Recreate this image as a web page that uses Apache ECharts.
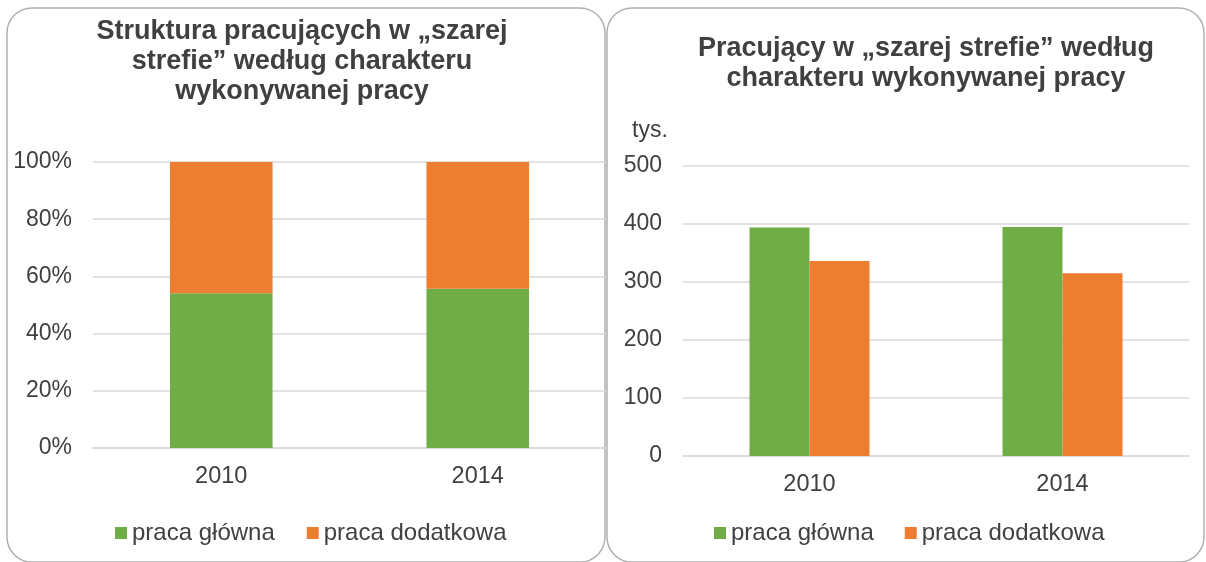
<!DOCTYPE html>
<html>
<head>
<meta charset="utf-8">
<script src="https://cdn.jsdelivr.net/npm/echarts@6/dist/echarts.min.js"></script>
<style>
html, body { margin: 0; padding: 0; background: #fff; }
#main { width: 1206px; height: 562px; }
</style>
</head>
<body>
<div id="main"></div>
<script>
// dane z wykresów
var years = ['2010', '2014'];
var seriesNames = ['praca główna', 'praca dodatkowa'];
// struktura w % (lewy wykres)
var shareMain = [54.1, 55.7];
var shareExtra = [45.9, 44.3];
// tys. osób (prawy wykres)
var countMain = [394, 395];
var countExtra = [336, 315];

var green = '#70AD47';
var orange = '#ED7D31';
var textColor = '#404040';
var gridColor = '#D9D9D9';
var font = '"Liberation Sans", Arial, sans-serif';

var chart = echarts.init(document.getElementById('main'));

function yAxisCfg(gridIdx, max, step, fmt) {
    return {
        type: 'value', gridIndex: gridIdx, min: 0, max: max, interval: step,
        axisLine: { show: false }, axisTick: { show: false },
        axisLabel: { color: textColor, fontSize: 23, fontFamily: font, margin: 21, formatter: fmt },
        splitLine: { lineStyle: { color: gridColor, width: 1.5 } }
    };
}
function xAxisCfg(gridIdx) {
    return {
        type: 'category', gridIndex: gridIdx, data: years,
        axisLine: { lineStyle: { color: gridColor, width: 1.5 } }, axisTick: { show: false },
        axisLabel: { color: textColor, fontSize: 23.5, fontFamily: font, margin: 17 }
    };
}
function legendCfg(x, gap) {
    return {
        data: seriesNames,
        left: x, top: 516, icon: 'rect', itemWidth: 12, itemHeight: 12, itemGap: gap,
        textStyle: { color: textColor, fontSize: 24, fontFamily: font },
        selectedMode: false
    };
}

var option = {
    animation: false,
    backgroundColor: '#fff',
    textStyle: { fontFamily: font },
    graphic: [
        { type: 'rect', shape: { x: 7, y: 8, width: 598, height: 554, r: 25 }, style: { fill: 'none', stroke: '#B0B0B0', lineWidth: 1.5 } },
        { type: 'rect', shape: { x: 607, y: 8, width: 597, height: 554, r: 25 }, style: { fill: 'none', stroke: '#B0B0B0', lineWidth: 1.5 } }
    ],
    title: [
        {
            text: 'Struktura pracujących w „szarej\nstrefie” według charakteru\nwykonywanej pracy',
            left: 297, top: 12, textAlign: 'center',
            textStyle: { color: textColor, fontSize: 27, fontWeight: 'bold', lineHeight: 30, fontFamily: font }
        },
        {
            text: 'Pracujący w „szarej strefie” według\ncharakteru wykonywanej pracy',
            left: 921, top: 29, textAlign: 'center',
            textStyle: { color: textColor, fontSize: 27, fontWeight: 'bold', lineHeight: 30, fontFamily: font }
        },
        {
            text: 'tys.', left: 627, top: 114,
            textStyle: { color: textColor, fontSize: 23, fontWeight: 'normal', fontFamily: font }
        }
    ],
    legend: [legendCfg(110, 32), legendCfg(709, 31)],
    grid: [
        { left: 93, width: 513, top: 162, height: 286 },
        { left: 683, width: 506, top: 166, height: 290 }
    ],
    xAxis: [xAxisCfg(0), xAxisCfg(1)],
    yAxis: [
        yAxisCfg(0, 100, 20, '{value}%'),
        yAxisCfg(1, 500, 100, '{value}')
    ],
    series: [
        { name: seriesNames[0], type: 'bar', stack: 'p', xAxisIndex: 0, yAxisIndex: 0, data: shareMain, barWidth: '40%', itemStyle: { color: green } },
        { name: seriesNames[1], type: 'bar', stack: 'p', xAxisIndex: 0, yAxisIndex: 0, data: shareExtra, barWidth: '40%', itemStyle: { color: orange } },
        { name: seriesNames[0], type: 'bar', xAxisIndex: 1, yAxisIndex: 1, data: countMain, barWidth: 60, barGap: '0%', itemStyle: { color: green } },
        { name: seriesNames[1], type: 'bar', xAxisIndex: 1, yAxisIndex: 1, data: countExtra, barWidth: 60, barGap: '0%', itemStyle: { color: orange } }
    ]
};

chart.setOption(option);
</script>
</body>
</html>
